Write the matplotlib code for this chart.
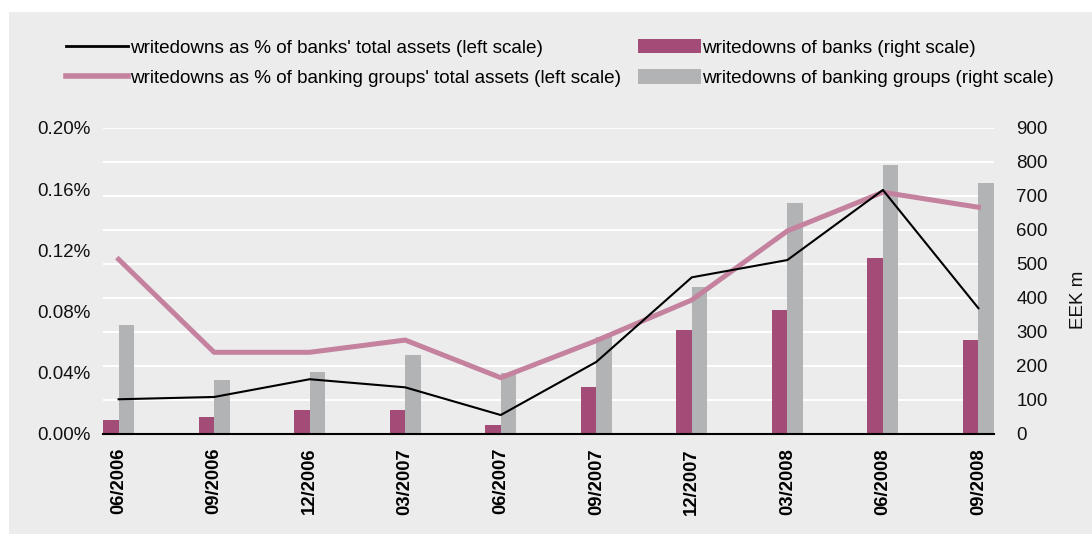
import matplotlib
matplotlib.use("Agg")
import matplotlib.pyplot as plt
from matplotlib.patches import Rectangle, Patch
from matplotlib.lines import Line2D
import numpy as np

plt.rcParams["font.family"] = ["Liberation Sans", "DejaVu Sans"]

# Quarter-end dates
quarters = ["06/2006", "09/2006", "12/2006", "03/2007", "06/2007",
            "09/2007", "12/2007", "03/2008", "06/2008", "09/2008"]

# Writedowns as % of total assets (left scale)
banks_pct = [0.0227, 0.0242, 0.0358, 0.0305, 0.0124,
             0.0471, 0.1024, 0.1137, 0.1595, 0.0822]
groups_pct = [0.1142, 0.0534, 0.0534, 0.0614, 0.0368,
              0.0610, 0.0876, 0.1327, 0.1580, 0.1482]

# Writedowns in EEK m (right scale)
banks_eek = [41, 51, 71, 71, 26, 138, 306, 365, 518, 276]
groups_eek = [321, 159, 182, 232, 180, 284, 432, 679, 791, 738]

BG = "#ebeceb"
C_BANKS = "#a44c78"
C_GROUPS = "#b2b3b4"
C_PINK = "#c4829f"

W, H = 1092, 534
fig = plt.figure(figsize=(W / 100, H / 100), dpi=100)
fig.patch.set_facecolor("white")
fig.patches.append(Rectangle((9 / W, 0), 1, 1 - 12 / H, transform=fig.transFigure,
                             facecolor=BG, edgecolor="none", zorder=-10))

x = np.arange(len(quarters))
bw = 0.163

# Base axes carry the bars (EEK m); the twin carries the percentage lines
ax = fig.add_axes([103 / W, 100 / H, 891 / W, 306 / H])
axl = ax.twinx()
ax.set_facecolor("none")

ax.bar(x - bw / 2, banks_eek, width=bw, color=C_BANKS, zorder=2)
ax.bar(x + bw / 2, groups_eek, width=bw, color=C_GROUPS, zorder=2)
ax.set_xlim(-bw, len(quarters) - 1 + bw)
ax.set_ylim(0, 900)
ax.set_yticks(range(0, 901, 100))
ax.yaxis.tick_right()
ax.yaxis.set_label_position("right")
ax.grid(axis="y", color="white", linewidth=1.4, zorder=0)
ax.set_axisbelow(True)
ax.tick_params(axis="y", length=0, pad=16, labelsize=13.5, colors="#111111")
ax.set_xticks(x)
ax.set_xticklabels(quarters, rotation=90, fontweight="bold", fontsize=13.3)
ax.tick_params(axis="x", length=0, pad=10)
for s in ("top", "left", "right"):
    ax.spines[s].set_visible(False)
ax.spines["bottom"].set_linewidth(1.5)
ax.spines["bottom"].set_zorder(5)
ax.set_ylabel("EEK m", fontsize=13.5, rotation=90, color="#111111")
ax.yaxis.set_label_coords(1.085, 0.44)

axl.plot(x, groups_pct, color=C_PINK, linewidth=3.6, zorder=3)
axl.plot(x, banks_pct, color="black", linewidth=1.5, zorder=4)
axl.set_ylim(0, 0.2)
pct_ticks = [0, 0.04, 0.08, 0.12, 0.16, 0.20]
axl.set_yticks(pct_ticks)
axl.set_yticklabels([f"{v:.2f}%" for v in pct_ticks])
axl.yaxis.tick_left()
axl.tick_params(axis="y", length=0, pad=9, labelsize=13.5, colors="#111111")
for s in axl.spines.values():
    s.set_visible(False)

handles = [
    Line2D([], [], color="black", linewidth=2),
    Line2D([], [], color=C_PINK, linewidth=4),
    Patch(facecolor=C_BANKS, edgecolor="none"),
    Patch(facecolor=C_GROUPS, edgecolor="none"),
]
labels = [
    "writedowns as % of banks' total assets (left scale)",
    "writedowns as % of banking groups' total assets (left scale)",
    "writedowns of banks (right scale)",
    "writedowns of banking groups (right scale)",
]
fig.legend(handles, labels, ncol=2, frameon=False, fontsize=13.6,
           loc="upper left", bbox_to_anchor=(66 / W, 1 - 39 / H),
           handlelength=3.3, handleheight=0.8, handletextpad=0.1,
           columnspacing=0.9, labelspacing=0.65, borderpad=0, borderaxespad=0)

fig.savefig("out.png", dpi=100)
